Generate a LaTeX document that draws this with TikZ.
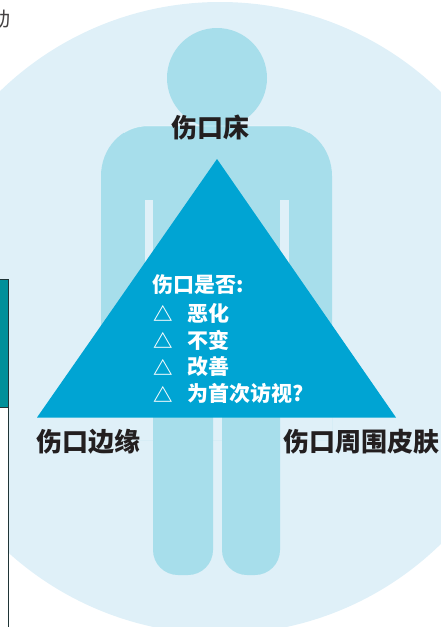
\documentclass[tikz,border=0pt]{standalone}
\usepackage{fontspec}
\newfontfamily\cjk{Noto Sans CJK SC}
\definecolor{haze}{HTML}{DFF0F8}
\definecolor{figblue}{HTML}{A7DEEB}
\definecolor{tri}{HTML}{00A4D3}
\definecolor{ink}{HTML}{231F20}
\definecolor{panelteal}{HTML}{00909A}
\definecolor{panelline}{HTML}{1F3436}
\begin{document}
\begin{tikzpicture}[x=1pt,y=-1pt,
  partlabel/.style={inner sep=0pt, text=ink, font=\cjk\bfseries\fontsize{26}{30}\selectfont},
  tritext/.style={inner sep=0pt, anchor=west, text=white, font=\cjk\bfseries\fontsize{21}{24}\selectfont},
  bulletsym/.style={inner sep=0pt, anchor=west, text=white, font=\cjk\bfseries\fontsize{19.5}{24}\selectfont}]
\useasboundingbox (0,0) rectangle (441,627);
\begin{scope}
\clip (0,0) rectangle (441,627);
% background disc
\fill[haze] (220,318) circle (316pt);
% human silhouette: head, torso with arms, legs
\fill[figblue] (217,78) circle (50pt);
\fill[figblue] (101,440) -- (101,176)
  arc[start angle=180, end angle=270, x radius=46, y radius=50]
  -- (286,126)
  arc[start angle=270, end angle=360, x radius=46, y radius=50]
  -- (332,440) -- cycle;
\draw[white, opacity=0.45, line width=0.7pt] (147,176) ++(240:46 and 50)
  arc[start angle=240, end angle=270, x radius=46, y radius=50]
  -- (286,126)
  arc[start angle=270, end angle=300, x radius=46, y radius=50];
\fill[haze] (145,200) rectangle (153,440);
\fill[haze] (280,200) rectangle (289,440);
\fill[haze] (213,380) rectangle (222,440);
\fill[haze] (101,412) rectangle (332,440);
\fill[figblue] (153,380) [rounded corners=25pt] -- (153,575) -- (213,575) [sharp corners] -- (213,380) -- cycle;
\fill[figblue] (222,380) [rounded corners=25pt] -- (222,575) -- (280,575) [sharp corners] -- (280,380) -- cycle;
% central triangle
\coordinate (apex) at (217,159);
\coordinate (bl) at (37,417.5);
\coordinate (br) at (396,417.5);
\fill[tri] (apex) -- (br) -- (bl) -- cycle;
% side panel
\fill[panelteal, draw=panelline, line width=0.8pt] (-5,279) rectangle (8.5,407);
\fill[white, draw=panelline, line width=0.8pt] (-5,407) rectangle (8.5,640);
% heading character at the page edge
\node[anchor=east, inner sep=0pt, text=ink!85, font=\cjk\fontsize{20}{24}\selectfont] (head) at (11,19) {动};
\end{scope}
% labels
\node[partlabel] (bed) at (210,128) {伤口床};
\node[partlabel] (edge) at (88.5,442) {伤口边缘};
\node[partlabel] (skin) at (361.5,442) {伤口周围皮肤};
% checklist inside the triangle
\node[tritext] (q) at (152,285) {伤口是否:};
\node[bulletsym] (m1) at (153,313) {△};
\node[tritext] (a1) at (187,313) {恶化};
\node[bulletsym] (m2) at (153,340) {△};
\node[tritext] (a2) at (187,340) {不变};
\node[bulletsym] (m3) at (153,367) {△};
\node[tritext] (a3) at (187,367) {改善};
\node[bulletsym] (m4) at (153,394) {△};
\node[tritext] (a4) at (187,394) {为首次访视?};
\end{tikzpicture}
\end{document}
